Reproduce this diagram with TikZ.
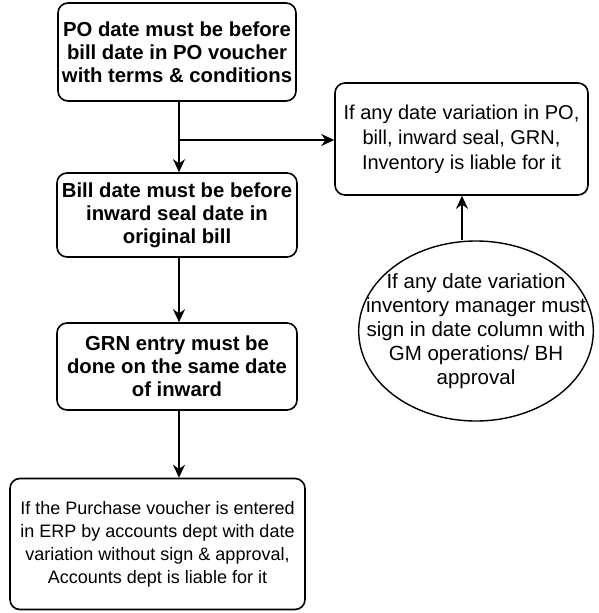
\documentclass[tikz,border=0pt]{standalone}
\usepackage{fontspec}
\setmainfont{Liberation Sans}
\usetikzlibrary{arrows.meta,shapes.geometric}
\begin{document}
\begin{tikzpicture}[x=1pt,y=-1pt,
  box/.style={draw,line width=1.6pt,rounded corners=10pt,align=center,inner sep=0pt},
  bbox/.style={box,font=\fontsize{20.3}{23}\selectfont\bfseries},
  rbox/.style={box,font=\fontsize{20}{25}\selectfont},
  lbox/.style={box,font=\fontsize{18}{23}\selectfont},
  oval/.style={draw,line width=1.4pt,ellipse,align=center,inner xsep=-27pt,inner ysep=0pt,font=\fontsize{20.5}{24}\selectfont},
  arr/.style={line width=1.6pt,-{Stealth[length=13pt,width=12pt]}}]
\useasboundingbox (0,0) rectangle (598,613);
\node[bbox,minimum width=238pt,minimum height=98pt] (b1) at (177,52) {PO date must be before\\bill date in PO voucher\\with terms \& conditions};
\node[bbox,minimum width=240pt,minimum height=84pt] (b2) at (177,215) {Bill date must be before\\inward seal date in\\original bill};
\node[bbox,minimum width=240pt,minimum height=87pt] (b3) at (177,366.5) {GRN entry must be\\done on the same date\\of inward};
\node[lbox,minimum width=295pt,minimum height=131pt] (b4) at (157.5,544) {If the Purchase voucher is entered\\in ERP by accounts dept with date\\variation without sign \& approval,\\Accounts dept is liable for it};
\node[rbox,minimum width=253pt,minimum height=112pt] (r) at (461.5,139) {If any date variation in PO,\\bill, inward seal, GRN,\\Inventory is liable for it};
\node[oval,minimum height=180pt] (e) at (476,331) {If any date variation\\inventory manager must\\sign in date column with\\GM operations/ BH\\approval};
\coordinate (j) at (179,140);
\draw[arr] (b1.south -| j) -- (b2.north -| j);
\draw[arr] (j) -- (r.west |- j);
\draw[arr] (b2.south -| j) -- (b3.north -| j);
\draw[arr] (b3.south -| j) -- (b4.north -| j);
\draw[arr] (e.north -| 462,0) -- (r.south -| 462,0);
\end{tikzpicture}
\end{document}
